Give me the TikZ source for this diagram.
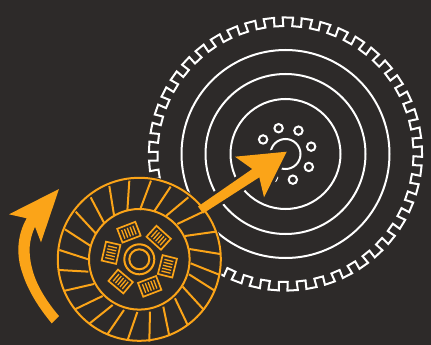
\documentclass[tikz,border=0pt]{standalone}
\definecolor{bgc}{HTML}{2D2A29}
\definecolor{org}{HTML}{FBA418}
\tikzset{
  gearline/.style={draw=white,line width=2pt,line join=miter},
  discline/.style={draw=org,line width=2pt},
  padline/.style={draw=org,line width=1.7pt},
  halo/.style={draw=bgc,line width=6pt,line join=round},
}
\begin{document}
\begin{tikzpicture}[x=1pt,y=-1pt]
\fill[bgc] (0,0) rectangle (431,345);
\useasboundingbox (0,0) rectangle (431,345);
% gear
\begin{scope}[shift={(285.5,154)}]
  \draw[gearline] (-3:128)
    \foreach \i in {0,...,44}{
      -- ({\i*8-3.2}:136.6) -- ({\i*8+1.2}:136.6) -- ({\i*8+1.0}:128) -- ({\i*8+5}:128)
    } -- cycle;
  \foreach \r in {55,80,104} \draw[gearline] (0,0) circle[radius=\r];
  \draw[gearline] (0,0) circle[radius=15];
  \foreach \a in {-147,-105,-61,-16,29,74,118,163}
    \draw[gearline] (\a:26.7) circle[radius=4.2];
\end{scope}
% arrow halo, disc ground, arrow
\draw[halo] (200,205) -- (252.3,169) -- (235,156.7) -- (286.7,151.7) -- (264,197.3) -- (259.3,177.3) -- (205,212.3) -- cycle;
\fill[bgc] (139.3,259.3) circle[radius=83.5];
\fill[org] (198,206.5) -- (252.3,169) -- (235,156.7) -- (286.7,151.7) -- (264,197.3) -- (259.3,177.3) -- (203,213.5) -- cycle;
% disc
\begin{scope}[shift={(139.3,259.3)}]
  \draw[discline] (0,0) circle[radius=81.5];
  \draw[discline] (0,0) circle[radius=50.3];
  \draw[discline] (0,0) circle[radius=15];
  \draw[discline] (0,0) circle[radius=10];
  \foreach \t in {111,48,-14,-69,-130,167}{
    \begin{scope}[shift={(-\t:29)},rotate=\t-90]
      \draw[padline] (-9.7,-7.4) rectangle (9.7,7.4);
      \foreach \u in {-6,-3,0,3,6}
        \draw[padline,line width=1.3pt] (\u,-4.6) -- (\u,4.6);
    \end{scope}
  }
\end{scope}
\begin{scope}[shift={(50,170)},x=0.3333pt,y=-0.3333pt]
  \foreach \a/\b/\c/\d in {232/123/238/32,192/135/178/48,163/160/122/82,137/190/77/125,122/228/45/178,115/268/28/240,115/305/27/300,132/342/45/362,158/378/75/418,188/405/117/462,222/420/172/493,262/426/233/510,300/425/298/515,340/410/358/498,375/385/413/465,398/350/462/420,417/313/494/362,422/280/510/315,418/237/510/252,405/198/497/185,382/162/460/125,348/138/415/82,312/125/362/50,270/120/303/32}
    \draw[discline] (\a,\b) -- (\c,\d);
\end{scope}
% curved arrow
\fill[org] (59,189) -- (9,214.3) -- (26.7,218.3)
  .. controls (16.5,236) and (16.5,256) .. (22,272)
  .. controls (28,291) and (39,308) .. (51.7,323.3)
  -- (59,316)
  .. controls (47,302) and (36,285) .. (32,268)
  .. controls (28,252) and (29,240) .. (35,226.7)
  -- (41,242.3) -- cycle;
\end{tikzpicture}
\end{document}
